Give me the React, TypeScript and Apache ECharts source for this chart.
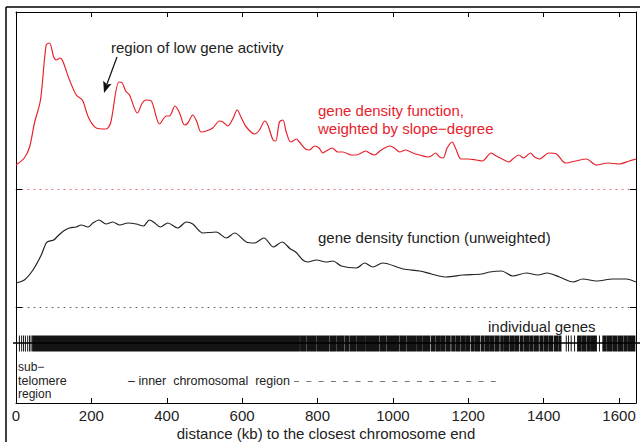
import React, { useEffect, useRef } from "react";
import * as echarts from "echarts";

// distance (kb) to the closest chromosome end
const xMax = 1645;
const xTickStep = 200;

// gene density function, weighted by slope-degree (arbitrary units)
const redKb = [0, 22, 36, 49, 65, 80, 89, 100, 107, 117, 124, 142, 160, 176, 193, 213, 239, 251, 273, 282, 291, 301, 322, 335, 345, 359, 381, 399, 407, 422, 434, 447, 456, 469, 480, 491, 505, 522, 540, 549, 562, 575, 587, 598, 611, 633, 646, 660, 668, 682, 689, 699, 708, 717, 729, 744, 752, 768, 779, 792, 804, 814, 823, 839, 854, 867, 890, 903, 928, 938, 951, 969, 993, 1004, 1018, 1034, 1053, 1071, 1093, 1102, 1113, 1124, 1133, 1144, 1157, 1166, 1181, 1199, 1221, 1237, 1261, 1274, 1290, 1308, 1318, 1334, 1347, 1365, 1376, 1389, 1414, 1434, 1458, 1485, 1513, 1540, 1571, 1601, 1627, 1645];
const redDensity = [24, 31, 42, 66, 89, 144, 146, 132, 129, 131, 128, 109, 94, 89, 71, 61, 60, 66, 107, 106, 98, 94, 76, 86, 89, 88, 65, 73, 73, 83, 76, 64, 66, 74, 67, 57, 58, 61, 68, 67, 63, 70, 79, 71, 62, 55, 59, 68, 64, 49, 48, 67, 69, 57, 47, 50, 47, 40, 39, 43, 41, 36, 38, 41, 37, 37, 34, 34, 38, 36, 34, 39, 43, 41, 37, 39, 36, 34, 32, 33, 36, 32, 31, 41, 47, 41, 30, 30, 29, 28, 36, 33, 30, 27, 30, 34, 31, 36, 32, 30, 36, 35, 26, 28, 30, 24, 26, 25, 28, 30];

// gene density function (unweighted)
const blackKb = [0, 22, 45, 67, 80, 89, 100, 111, 126, 142, 160, 173, 191, 204, 220, 239, 257, 275, 297, 319, 338, 354, 368, 383, 403, 429, 452, 469, 496, 531, 558, 580, 611, 633, 658, 683, 706, 728, 742, 761, 774, 797, 823, 841, 863, 903, 925, 947, 973, 1027, 1071, 1102, 1142, 1186, 1235, 1257, 1288, 1318, 1354, 1385, 1409, 1442, 1478, 1504, 1540, 1584, 1619, 1645];
const blackDensity = [24, 27, 37, 52, 64, 66, 67, 71, 76, 79, 80, 82, 80, 84, 87, 83, 85, 82, 84, 83, 81, 87, 84, 80, 84, 79, 85, 83, 74, 75, 69, 74, 65, 64, 69, 60, 65, 58, 55, 47, 45, 47, 45, 46, 41, 39, 44, 40, 44, 38, 36, 33, 30, 32, 33, 35, 36, 31, 34, 32, 34, 30, 25, 28, 26, 28, 28, 25];

// individual genes: solid clusters [start, end] (kb) and isolated genes (kb)
const geneSpans = [
  [44, 752], [755, 770], [773, 795], [798, 830], [833, 848], [851, 870], [873, 883], [886, 901],
  [904, 927], [930, 963], [966, 981], [984, 1016], [1019, 1034], [1037, 1060], [1063, 1078], [1081, 1098],
  [1102, 1112], [1115, 1126], [1129, 1138], [1141, 1152], [1156, 1164], [1167, 1178], [1181, 1190],
  [1193, 1204], [1208, 1216], [1219, 1230], [1234, 1241], [1244, 1256], [1259, 1268], [1271, 1282],
  [1286, 1293], [1296, 1308], [1311, 1320], [1323, 1334], [1338, 1345], [1348, 1360], [1363, 1372],
  [1375, 1386], [1390, 1398], [1401, 1412], [1415, 1424], [1428, 1437], [1440, 1446],
  [1490, 1498], [1501, 1512], [1515, 1524], [1527, 1540],
  [1557, 1566], [1569, 1582], [1585, 1594], [1597, 1610], [1613, 1622], [1625, 1642],
];
const geneSingles = [9, 15, 20, 25, 31, 36, 40, 1460, 1466, 1473, 1482, 1548];

const FONT = "'Liberation Sans', Arial, Helvetica, sans-serif";
const RED = "#e8222c";

export default function App() {
  const ref = useRef<HTMLDivElement>(null);

  useEffect(() => {
    if (!ref.current) return;
    const chart = echarts.init(ref.current, undefined, { renderer: "svg" });

    const redData = redKb.map((k, i) => [k, redDensity[i]]);
    const blackData = blackKb.map((k, i) => [k, blackDensity[i]]);
    const geneData = [...geneSpans, ...geneSingles.map((g) => [g, g])];

    const solidLine = { show: true, onZero: false, lineStyle: { color: "#000", width: 1 } };
    const noLabel = { show: false };
    const noSplit = { show: false };

    const xBase = { type: "value", min: 0, max: xMax, interval: xTickStep, splitLine: noSplit };

    const hiddenY = (gridIndex: number, max: number, position: string) => ({
      type: "value", gridIndex, min: 0, max, position,
      axisLine: solidLine, axisTick: { show: false }, axisLabel: noLabel, splitLine: noSplit,
    });

    const option: any = {
      animation: false,
      backgroundColor: "#fff",
      grid: [
        { left: 16, right: 4, top: 12, height: 177 },
        { left: 16, right: 4, top: 189, height: 118 },
        { left: 16, right: 4, top: 307, height: 96 },
      ],
      xAxis: [
        { ...xBase, gridIndex: 0, position: "top", axisLine: solidLine,
          axisTick: { show: true, inside: true, length: 5, lineStyle: { color: "#000" } }, axisLabel: noLabel },
        { ...xBase, gridIndex: 0, position: "bottom",
          axisLine: { show: true, onZero: false, lineStyle: { color: "#e86a6a", width: 1, type: [1, 5] } },
          axisTick: { show: false }, axisLabel: noLabel },
        { ...xBase, gridIndex: 1, position: "bottom",
          axisLine: { show: true, onZero: false, lineStyle: { color: "#666", width: 1, type: [1, 5] } },
          axisTick: { show: false }, axisLabel: noLabel },
        { ...xBase, gridIndex: 2, position: "bottom", axisLine: solidLine,
          axisTick: { show: true, inside: true, length: 5, lineStyle: { color: "#000" } },
          axisLabel: {
            show: true, margin: 5, fontSize: 15, color: "#222", fontFamily: FONT,
            formatter: (v: number) => (v % xTickStep === 0 ? String(v) : ""),
          },
          name: "distance (kb) to the closest chromosome end",
          nameLocation: "middle", nameGap: 23,
          nameTextStyle: { fontSize: 15, color: "#222", fontFamily: FONT } },
      ],
      yAxis: [
        hiddenY(0, 177, "left"),
        hiddenY(0, 177, "right"),
        { type: "value", gridIndex: 1, min: 0, max: 118, interval: 118, position: "left",
          axisLine: solidLine, axisTick: { show: true, inside: true, length: 6, lineStyle: { color: "#000" } },
          axisLabel: noLabel, splitLine: noSplit },
        { type: "value", gridIndex: 1, min: 0, max: 118, interval: 118, position: "right",
          axisLine: solidLine, axisTick: { show: true, inside: true, length: 6, lineStyle: { color: "#000" } },
          axisLabel: noLabel, splitLine: noSplit },
        hiddenY(2, 96, "left"),
        hiddenY(2, 96, "right"),
      ],
      series: [
        { type: "line", xAxisIndex: 1, yAxisIndex: 0, data: redData, smooth: 0.3,
          showSymbol: false, lineStyle: { color: RED, width: 1.2 }, silent: true },
        { type: "line", xAxisIndex: 2, yAxisIndex: 2, data: blackData, smooth: 0.3,
          showSymbol: false, lineStyle: { color: "#222", width: 1.2 }, silent: true },
        { type: "custom", xAxisIndex: 3, yAxisIndex: 4, data: geneData, clip: false, silent: true,
          encode: { x: [0, 1] },
          renderItem: (_params: any, api: any) => {
            const s = api.coord([api.value(0), 60]);
            const e = api.coord([api.value(1), 60]);
            return {
              type: "rect",
              shape: { x: s[0] - 0.5, y: s[1] - 7.5, width: Math.max(e[0] - s[0], 0) + 1, height: 16 },
              style: { fill: "#141414" },
            };
          } },
      ],
      graphic: [
        // figure frame (top / left)
        { type: "line", shape: { x1: 6, y1: 7, x2: 640, y2: 7 }, style: { stroke: "#000", lineWidth: 1.5 } },
        { type: "line", shape: { x1: 6, y1: 7, x2: 6, y2: 442 }, style: { stroke: "#000", lineWidth: 1.5 } },
        // gene row axis line
        { type: "line", shape: { x1: 13, y1: 343, x2: 640, y2: 343 }, style: { stroke: "#000", lineWidth: 1.3 }, z: 10 },
        // annotation: region of low gene activity
        { type: "text", x: 111, y: 47, style: { text: "region of low gene activity", font: `15px ${FONT}`, fill: "#222", textVerticalAlign: "middle" } },
        { type: "line", shape: { x1: 117, y1: 57, x2: 107, y2: 84 }, style: { stroke: "#111", lineWidth: 1.2 } },
        { type: "polygon", shape: { points: [[104, 93], [103.2, 80.8], [107.2, 84.6], [111.6, 83.8]] }, style: { fill: "#111" } },
        // series labels
        { type: "text", x: 318, y: 110, style: { text: "gene density function,", font: `15px ${FONT}`, fill: RED, textVerticalAlign: "middle" } },
        { type: "text", x: 318, y: 128, style: { text: "weighted by slope\u2212degree", font: `15px ${FONT}`, fill: RED, textVerticalAlign: "middle" } },
        { type: "text", x: 318, y: 237, style: { text: "gene density function (unweighted)", font: `15px ${FONT}`, fill: "#222", textVerticalAlign: "middle" } },
        { type: "text", x: 488, y: 326, style: { text: "individual genes", font: `15px ${FONT}`, fill: "#222", textVerticalAlign: "middle" } },
        // region labels
        { type: "text", x: 18, y: 367, style: { text: "sub\u2212", font: `12px ${FONT}`, fill: "#222", textVerticalAlign: "middle" } },
        { type: "text", x: 18, y: 380.5, style: { text: "telomere", font: `12.5px ${FONT}`, fill: "#222", textVerticalAlign: "middle" } },
        { type: "text", x: 18, y: 394, style: { text: "region", font: `12px ${FONT}`, fill: "#222", textVerticalAlign: "middle" } },
        { type: "text", x: 128, y: 381, style: { text: "\u2013 inner  chromosomal  region", font: `12.5px ${FONT}`, fill: "#222", textVerticalAlign: "middle" } },
        { type: "line", shape: { x1: 294, y1: 381.5, x2: 497, y2: 381.5 }, style: { stroke: "#777", lineWidth: 1, lineDash: [5, 7.3] } },
      ],
    };

    chart.setOption(option);
    return () => chart.dispose();
  }, []);

  return (
    <div
      ref={ref}
      style={{ position: "fixed", left: 0, top: 0, width: 640, height: 442, background: "#fff" }}
    />
  );
}
